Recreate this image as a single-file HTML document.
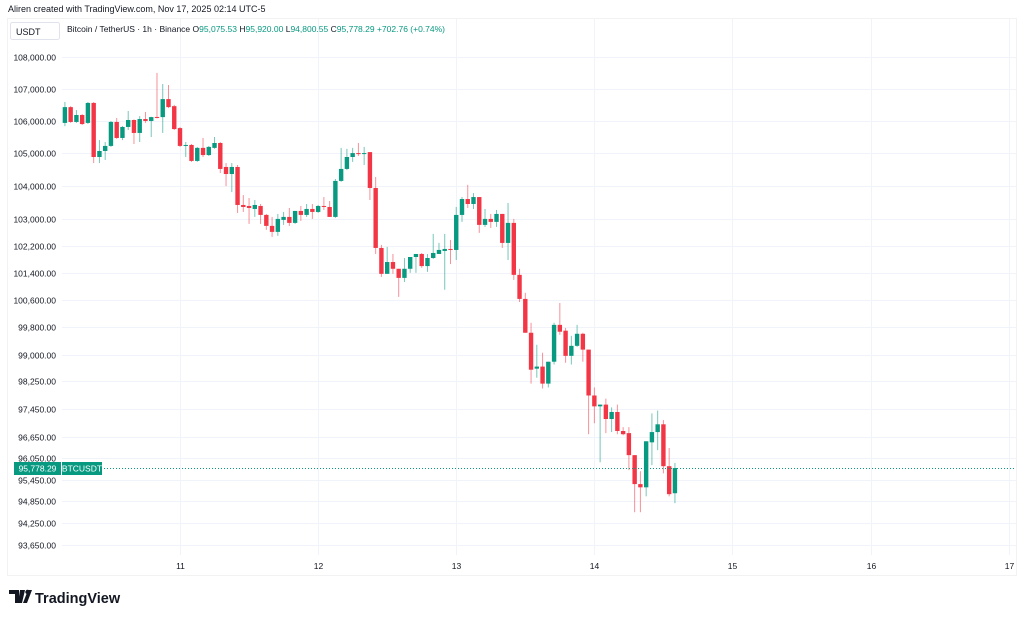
<!DOCTYPE html>
<html><head><meta charset="utf-8"><style>
html,body{margin:0;padding:0;background:#fff;}
svg{display:block;font-family:"Liberation Sans",sans-serif;}
</style></head><body>
<svg id="chart" width="1024" height="618" viewBox="0 0 1024 618">
  <text x="8" y="12" font-size="9" fill="#131722">Aliren created with TradingView.com, Nov 17, 2025 02:14 UTC-5</text>
  <rect x="7.5" y="18.5" width="1009" height="557" fill="none" stroke="#e6e6e6" stroke-dasharray="1,1"/>
  <g id="grid"></g>
  <rect x="10.5" y="22.5" width="49" height="17" rx="2" fill="#fff" stroke="#e0e3eb"/>
  <text x="16" y="35" font-size="9" fill="#131722">USDT</text>
  <text x="67" y="32" font-size="8.5" fill="#131722">Bitcoin / TetherUS · 1h · Binance <tspan fill="#131722">O</tspan><tspan fill="#089981">95,075.53</tspan> <tspan>H</tspan><tspan fill="#089981">95,920.00</tspan> <tspan>L</tspan><tspan fill="#089981">94,800.55</tspan> <tspan>C</tspan><tspan fill="#089981">95,778.29 +702.76 (+0.74%)</tspan></text>
  <g id="yaxis"></g>
  <g id="xaxis"></g>
  <g id="candles"></g>
  <g id="lastprice"></g>
  <g>
    <path d="M9 590h10v13h-4v-9h-6z M20 590h5l-3 13h-4z" fill="#131722"/>
    <circle cx="27.5" cy="592" r="2.2" fill="#131722"/>
    <path d="M28 590h4l-5 13h-4z" fill="#131722"/>
    <text x="35" y="603" font-size="14.5" font-weight="bold" fill="#131722">TradingView</text>
  </g>
</svg>
<script>
const yTicks = [108000,107000,106000,105000,104000,103000,102200,101400,100600,99800,99000,98250,97450,96650,96050,95450,94850,94250,93650];
const dayLabels = ["11","12","13","14","15","16","17"];
const dayHours = [24,48,72,96,120,144,168];
const startHour = 4;
const opens = [105940,106430,105970,106185,105940,106560,104890,105075,105230,105970,105475,105815,106030,105630,106060,106000,106125,106120,106680,106460,105780,105230,105260,104770,105170,104950,105170,105320,104585,104370,104585,103430,103400,103310,103400,103130,102800,102620,102980,103070,102890,103250,103130,103310,103220,103400,103370,103070,104160,104525,104890,105010,104980,105040,103945,102140,101370,101720,101520,101250,101520,101870,101960,101600,101840,101960,102050,102110,102080,103130,103610,103460,103670,102830,103010,102920,103160,102290,102890,101340,100630,99640,98600,98660,98170,98800,99870,99700,98970,99260,99610,99150,97830,97520,97570,97160,97360,96820,96760,96140,95330,95240,96500,96790,97010,95830,95075.53];
const highs = [106590,106460,106340,106215,106590,106590,105410,105350,106000,106090,105845,106310,106050,106150,106280,106130,107500,107150,107120,106500,105810,105350,105290,105200,105475,105230,105505,105350,104705,104705,104645,103730,103640,103580,103460,103160,103070,103160,103220,103340,103250,103400,103460,103460,103430,103670,103550,104220,105170,105140,105170,105320,105200,105040,104280,102230,102170,101960,101520,101840,101870,101960,101990,101960,102560,102290,102560,102380,103370,103670,104040,103790,103670,103310,103160,103280,103160,103490,103010,101520,100810,99930,99290,99060,98800,99930,100510,99780,99550,99870,99640,99150,98060,97570,97740,97490,97570,96930,96930,96140,95690,96530,97320,97400,97130,96340,95920];
const lows = [105840,105940,105940,105875,105905,104705,104705,104800,105200,105445,105410,105720,105290,105350,105940,105505,106080,105630,106400,105720,105200,104890,104740,104740,104890,104920,105140,104400,104000,103820,103190,103220,102860,103070,102860,102680,102470,102500,102830,102800,102860,102950,103070,103010,103190,103280,103070,103040,104130,104490,104740,104920,104645,103580,101960,101280,101370,101370,100690,101130,101400,101400,101550,101430,101810,101960,100900,101660,101780,102920,103340,103310,102590,102770,102740,102770,102140,101780,101190,100540,99640,98170,98340,98030,98060,98720,99580,98770,98720,99230,98800,96730,97040,95940,96760,96790,96730,96700,95720,94550,94550,94990,95860,96280,95630,94990,94800.55];
const closes = [106430,105970,106185,105905,106560,104890,105075,105230,105970,105475,105815,106030,105630,106060,106000,106120,106095,106680,106430,105750,105230,105260,104770,105170,104950,105200,105320,104525,104370,104585,103430,103370,103340,103430,103130,102800,102620,103010,103070,102890,103250,103130,103310,103220,103400,103370,103070,104160,104525,104890,105010,104980,105010,103945,102140,101370,101720,101520,101250,101520,101870,101960,101600,101840,101990,102080,102110,102100,103130,103610,103460,103670,102830,103010,102920,103160,102290,102890,101340,100630,99640,98570,98660,98170,98800,99870,99670,98970,99260,99610,99150,97830,97520,97570,97160,97360,96820,96730,96140,95330,95240,96530,96790,97010,95830,95050,95778.29];

const NS = "http://www.w3.org/2000/svg";
const Y0 = 57, PTOP = 108000, K = 3422.6;
function yScale(p){ return Y0 + K*Math.log(PTOP/p); }
const X11 = 180, PXH = 5.755;
function xScale(h){ return X11 + (h-24)*PXH; }
function mk(tag, attrs, parent){ const e=document.createElementNS(NS,tag); for(const k in attrs) e.setAttribute(k,attrs[k]); parent.appendChild(e); return e; }
function fmt(v){ return v.toLocaleString("en-US",{minimumFractionDigits:2,maximumFractionDigits:2}); }

const grid=document.getElementById("grid"), ya=document.getElementById("yaxis"), xa=document.getElementById("xaxis");
yTicks.forEach(v=>{
  const y=Math.round(yScale(v))+0.5;
  const l=mk("line",{x1:62,x2:1016,y1:y,y2:y,stroke:"#f0f3fa"},grid);
  
  
  const t=mk("text",{x:56,y:y+3,"font-size":8.5,fill:"#131722","text-anchor":"end"},ya);
  t.textContent=fmt(v);
  
  
});
dayHours.forEach((h,i)=>{
  const x=Math.round(xScale(h))+0.5;
  const l=mk("line",{x1:x,x2:x,y1:19,y2:555,stroke:"#f0f3fa"},grid);
  
  
  const t=mk("text",{x:x,y:569,"font-size":8.5,fill:"#131722","text-anchor":"middle"},xa);
  t.textContent=dayLabels[i];
  
  
});
const cg=document.getElementById("candles");
opens.forEach((o,i)=>{
  const c=closes[i], up=c>=o, col=up?"#089981":"#f23645";
  const x=xScale(startHour+i);
  const g=mk("g",{},cg);
  
  
  mk("line",{x1:x,x2:x,y1:yScale(highs[i]),y2:yScale(lows[i]),stroke:col,"stroke-width":1,opacity:0.55},g);
  const yt=yScale(Math.max(o,c)), yb=yScale(Math.min(o,c));
  mk("rect",{x:x-2.2,y:yt,width:4.4,height:Math.max(1,yb-yt),fill:col},g);
});
const lp=document.getElementById("lastprice");
const last=closes[closes.length-1], ly=Math.round(yScale(last))+0.5;
const ln=mk("line",{x1:62,x2:1016,y1:ly,y2:ly,stroke:"#089981","stroke-dasharray":"1,2"},lp);


const r1=mk("rect",{x:14,y:ly-6.5,width:47,height:13,fill:"#089981"},lp);


const t1=mk("text",{x:37.5,y:ly+3,"font-size":8.5,fill:"#fff","text-anchor":"middle"},lp);
t1.textContent=fmt(last);


const r2=mk("rect",{x:62,y:ly-6.5,width:40,height:13,fill:"#089981"},lp);


const t2=mk("text",{x:82,y:ly+3,"font-size":8.5,fill:"#fff","text-anchor":"middle"},lp);
t2.textContent="BTCUSDT";


</script>
</body></html>
